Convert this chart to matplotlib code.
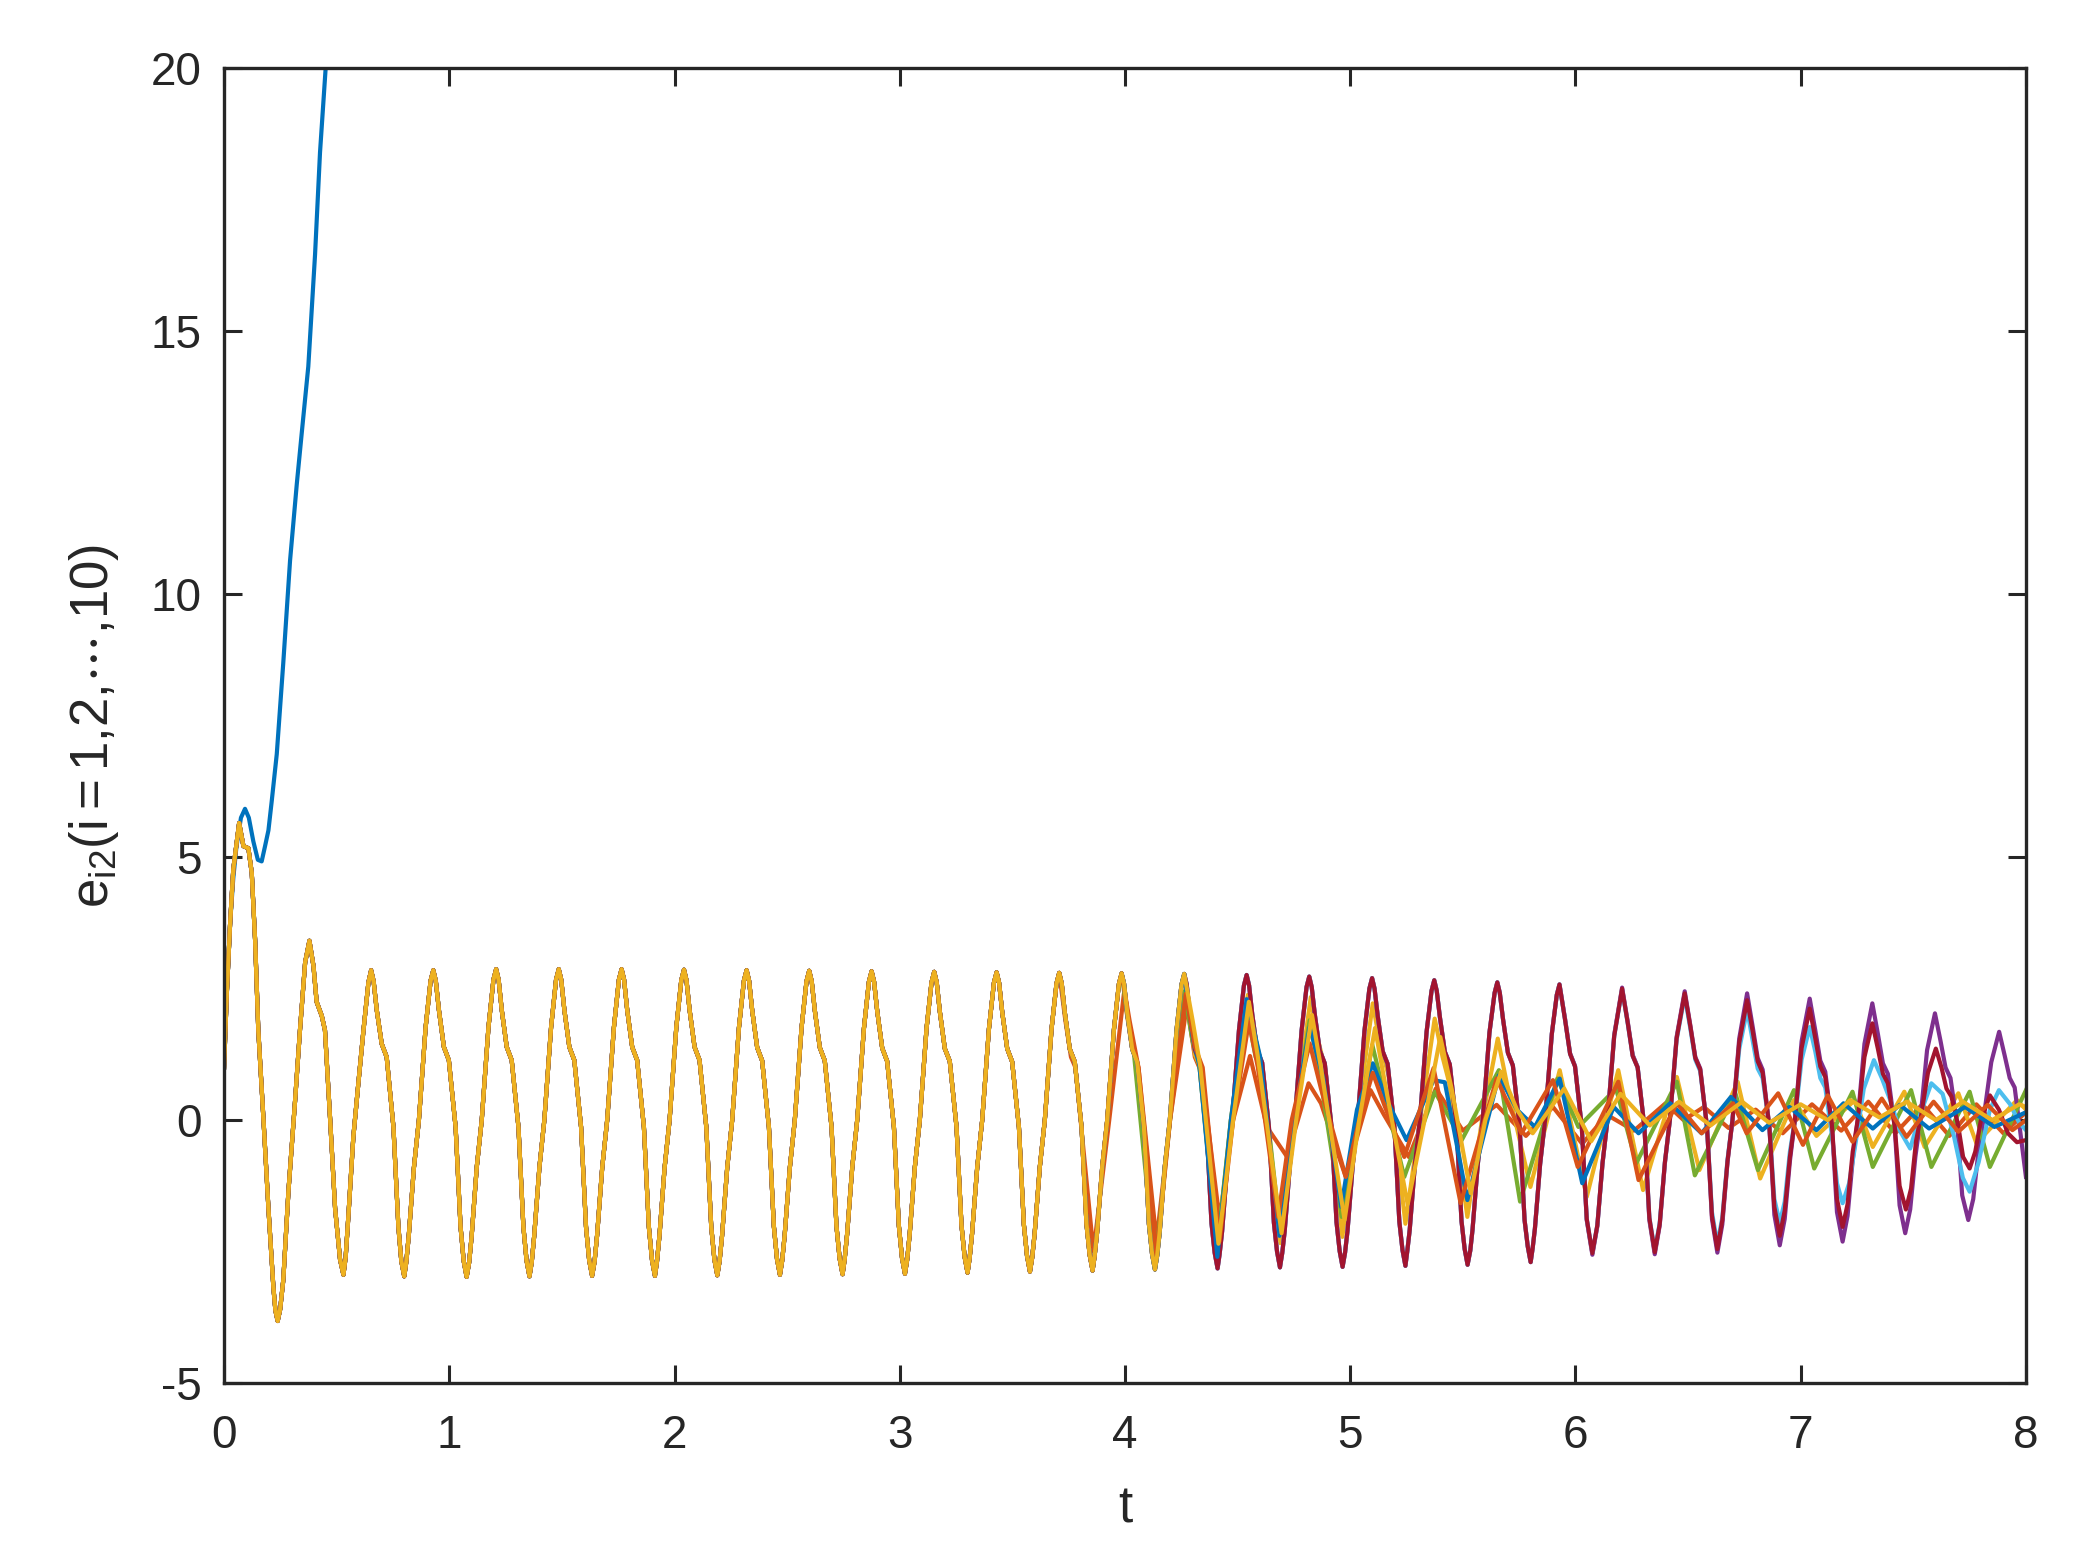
import matplotlib
matplotlib.use("Agg")
import matplotlib.pyplot as plt

plt.rcParams['font.family'] = ['Liberation Sans', 'DejaVu Sans']
plt.rcParams['mathtext.fontset'] = 'custom'
plt.rcParams['mathtext.rm'] = 'Liberation Sans'
plt.rcParams['mathtext.it'] = 'Liberation Sans'
plt.rcParams['axes.unicode_minus'] = False

# ---------------- data ----------------
# shared waveform followed by all synchronised agents (one row per cycle)
t_main = [
    0.000, 0.012, 0.027, 0.041, 0.067, 0.086, 0.108, 0.123, 0.138, 0.152, 0.175, 0.197, 0.219, 0.228, 0.238, 0.249,
    0.263, 0.286, 0.315, 0.337, 0.360, 0.379, 0.397, 0.411, 0.434, 0.448, 0.471, 0.493, 0.515, 0.530, 0.540,
    0.552, 0.574, 0.596, 0.619, 0.641, 0.653, 0.664, 0.678, 0.700, 0.722, 0.752, 0.774, 0.787, 0.800,
    0.809, 0.820, 0.843, 0.865, 0.895, 0.917, 0.929, 0.940, 0.954, 0.976, 0.998, 1.028, 1.050, 1.064, 1.077,
    1.088, 1.099, 1.122, 1.144, 1.174, 1.196, 1.208, 1.219, 1.233, 1.255, 1.277, 1.307, 1.329, 1.343, 1.356,
    1.366, 1.377, 1.400, 1.422, 1.452, 1.474, 1.486, 1.497, 1.511, 1.533, 1.555, 1.585, 1.607, 1.621, 1.634,
    1.645, 1.656, 1.679, 1.701, 1.731, 1.753, 1.765, 1.776, 1.790, 1.812, 1.834, 1.864, 1.886, 1.900, 1.913,
    1.922, 1.933, 1.956, 1.978, 2.008, 2.030, 2.042, 2.053, 2.067, 2.089, 2.111, 2.141, 2.163, 2.177, 2.190,
    2.200, 2.211, 2.234, 2.256, 2.286, 2.308, 2.320, 2.331, 2.345, 2.367, 2.389, 2.419, 2.441, 2.455, 2.468,
    2.478, 2.489, 2.512, 2.534, 2.564, 2.586, 2.598, 2.609, 2.623, 2.645, 2.667, 2.697, 2.719, 2.733, 2.746,
    2.755, 2.766, 2.789, 2.811, 2.841, 2.863, 2.875, 2.886, 2.900, 2.922, 2.944, 2.974, 2.996, 3.010, 3.023,
    3.033, 3.044, 3.067, 3.089, 3.119, 3.141, 3.153, 3.164, 3.178, 3.200, 3.222, 3.252, 3.274, 3.288, 3.301,
    3.310, 3.321, 3.344, 3.366, 3.396, 3.418, 3.430, 3.441, 3.455, 3.477, 3.499, 3.529, 3.551, 3.565, 3.578,
    3.588, 3.599, 3.622, 3.644, 3.674, 3.696, 3.708, 3.719, 3.733, 3.755, 3.777, 3.807, 3.829, 3.843, 3.856,
    3.865, 3.876, 3.899, 3.921, 3.951, 3.973, 3.985, 3.996, 4.010, 4.032, 4.054, 4.084, 4.106, 4.120, 4.133,
    4.143, 4.154, 4.177, 4.199, 4.229, 4.251, 4.263, 4.274, 4.288, 4.310, 4.332, 4.362, 4.384, 4.398, 4.411,
    4.420, 4.431, 4.454, 4.476, 4.506, 4.528, 4.540, 4.551, 4.565, 4.587, 4.609, 4.639, 4.661, 4.675, 4.688,
    4.698, 4.709, 4.732, 4.754, 4.784, 4.806, 4.818, 4.829, 4.843, 4.865, 4.887, 4.917, 4.939, 4.953, 4.966,
    4.977, 4.988, 5.011, 5.033, 5.063, 5.085, 5.097, 5.108, 5.122, 5.144, 5.166, 5.196, 5.218, 5.232, 5.245,
    5.253, 5.264, 5.287, 5.309, 5.339, 5.361, 5.373, 5.384, 5.398, 5.420, 5.442, 5.472, 5.494, 5.508, 5.521,
    5.533, 5.543, 5.566, 5.588, 5.618, 5.641, 5.653, 5.664, 5.678, 5.700, 5.722, 5.752, 5.774, 5.788, 5.801,
    5.810, 5.820, 5.843, 5.865, 5.895, 5.917, 5.929,
]
y_main = [
    1.00, 2.39, 3.75, 4.77, 5.65, 5.21, 5.17, 4.70, 3.41, 1.71, 0.01, -1.68, -3.18, -3.62, -3.82, -3.60,
    -3.04, -1.34, 0.35, 1.71, 3.00, 3.41, 2.93, 2.25, 1.98, 1.71, 0.01, -1.68, -2.65, -2.94, -2.60,
    -1.82, -0.32, 0.69, 1.71, 2.62, 2.85, 2.64, 2.09, 1.45, 1.20, -0.13, -2.03, -2.68, -2.97,
    -2.70, -2.20, -0.90, 0.00, 1.77, 2.65, 2.85, 2.65, 2.09, 1.39, 1.14, -0.13, -2.03, -2.68, -2.98,
    -2.71, -2.22, -0.89, 0.00, 1.77, 2.67, 2.87, 2.67, 2.09, 1.39, 1.14, -0.13, -2.03, -2.67, -2.97,
    -2.70, -2.20, -0.90, 0.00, 1.77, 2.67, 2.87, 2.67, 2.09, 1.39, 1.14, -0.13, -2.03, -2.66, -2.96,
    -2.69, -2.20, -0.90, 0.00, 1.77, 2.67, 2.87, 2.67, 2.09, 1.39, 1.14, -0.13, -2.03, -2.66, -2.96,
    -2.69, -2.20, -0.90, 0.00, 1.77, 2.66, 2.86, 2.66, 2.09, 1.39, 1.14, -0.13, -2.03, -2.65, -2.95,
    -2.68, -2.20, -0.90, 0.00, 1.76, 2.65, 2.85, 2.65, 2.08, 1.38, 1.13, -0.13, -2.02, -2.64, -2.94,
    -2.67, -2.19, -0.90, 0.00, 1.76, 2.64, 2.84, 2.64, 2.08, 1.38, 1.13, -0.13, -2.02, -2.63, -2.93,
    -2.66, -2.18, -0.90, 0.00, 1.75, 2.63, 2.83, 2.63, 2.07, 1.37, 1.12, -0.13, -2.01, -2.62, -2.92,
    -2.65, -2.17, -0.89, 0.00, 1.75, 2.62, 2.82, 2.62, 2.06, 1.36, 1.12, -0.13, -2.00, -2.60, -2.90,
    -2.63, -2.16, -0.89, 0.00, 1.74, 2.61, 2.81, 2.61, 2.05, 1.36, 1.11, -0.13, -1.99, -2.58, -2.88,
    -2.61, -2.15, -0.88, 0.00, 1.74, 2.60, 2.80, 2.60, 2.04, 1.35, 1.11, -0.13, -1.98, -2.56, -2.86,
    -2.59, -2.14, -0.88, 0.00, 1.73, 2.59, 2.79, 2.59, 2.03, 1.35, 1.10, -0.13, -1.97, -2.54, -2.84,
    -2.57, -2.13, -0.87, 0.00, 1.72, 2.58, 2.78, 2.58, 2.02, 1.34, 1.10, -0.13, -1.96, -2.52, -2.82,
    -2.55, -2.12, -0.87, 0.00, 1.71, 2.56, 2.76, 2.56, 2.01, 1.33, 1.09, -0.13, -1.95, -2.50, -2.80,
    -2.53, -2.11, -0.86, 0.00, 1.70, 2.53, 2.73, 2.53, 2.00, 1.32, 1.08, -0.13, -1.94, -2.49, -2.79,
    -2.52, -2.10, -0.86, 0.00, 1.69, 2.50, 2.70, 2.50, 1.98, 1.31, 1.07, -0.13, -1.93, -2.47, -2.77,
    -2.50, -2.09, -0.85, 0.00, 1.68, 2.46, 2.66, 2.46, 1.96, 1.30, 1.06, -0.13, -1.92, -2.45, -2.75,
    -2.48, -2.08, -0.85, 0.00, 1.66, 2.42, 2.62, 2.42, 1.93, 1.28, 1.04, -0.13, -1.90, -2.40, -2.70,
    -2.43, -2.06, -0.84, 0.00, 1.64, 2.38, 2.58,
]

# agent 1: diverging trajectory
t_1 = [0.000, 0.012, 0.027, 0.041, 0.055, 0.075, 0.093, 0.110, 0.130, 0.150, 0.167, 0.182,
       0.197, 0.212, 0.234, 0.263, 0.293, 0.323, 0.345, 0.374, 0.404, 0.426, 0.451]
y_1 = [1.00, 2.39, 3.75, 4.60, 5.20, 5.75, 5.92, 5.75, 5.30, 4.95, 4.92, 5.21,
       5.51, 6.08, 6.96, 8.70, 10.64, 12.10, 13.07, 14.33, 16.46, 18.40, 20.00]

# time at which each agent leaves the shared waveform (agents 2..10)
split_t = {2: 3.708, 3: 4.263, 4: 5.929, 5: 3.985, 6: 5.929, 7: 5.929, 8: 4.263, 9: 3.985, 10: 4.263}

t_2 = [3.735, 3.760, 3.780, 3.860, 3.930, 3.995, 4.030, 4.060, 4.140, 4.200, 4.275, 4.310, 4.340,
       4.420, 4.480, 4.555, 4.630, 4.720, 4.815, 4.870, 4.980, 5.090, 5.150, 5.260, 5.380, 5.500,
       5.650, 5.780, 5.900, 6.030, 6.140, 6.260, 6.400, 6.480, 6.570, 6.680, 6.800, 6.920, 7.050,
       7.180, 7.300, 7.420, 7.540, 7.660, 7.780, 7.900, 8.000]
y_2 = [1.90, 1.20, 1.00, -2.50, 0.00, 2.40, 1.40, 1.00, -2.30, 0.00, 2.20, 1.20, 0.90,
       -1.90, 0.00, 1.22, -0.13, -0.70, 0.70, 0.32, -1.08, 0.57, 0.10, -0.70, 0.60, -0.20,
       0.29, -0.30, 0.25, -0.45, 0.10, -0.20, 0.32, 0.00, 0.25, -0.15, 0.20, -0.25, 0.30,
       -0.20, 0.35, -0.25, 0.30, -0.30, 0.30, -0.25, 0.15]

t_3 = [4.290, 4.310, 4.330, 4.410, 4.470, 4.545, 4.570, 4.610, 4.690, 4.750, 4.825, 4.850, 4.890,
       4.965, 5.030, 5.100, 5.130, 5.170, 5.245, 5.310, 5.375, 5.410, 5.440, 5.520, 5.585, 5.655,
       5.700, 5.800, 5.930, 6.050, 6.190, 6.300, 6.450, 6.550, 6.720, 6.820, 6.970, 7.070, 7.240,
       7.320, 7.460, 7.550, 7.700, 7.780, 7.960, 8.000]
y_3 = [1.95, 1.25, 1.05, -2.45, 0.00, 2.38, 1.70, 1.00, -2.34, 0.00, 2.34, 1.65, 0.95,
       -2.22, 0.00, 2.22, 1.50, 0.85, -1.97, 0.00, 1.93, 1.20, 0.70, -1.84, 0.00, 1.55,
       0.60, -1.27, 0.95, -1.46, 0.95, -1.33, 0.82, -0.95, 0.73, -1.11, 0.38, -0.30, 0.38,
       -0.51, 0.54, -0.51, 0.51, -0.44, 0.38, 0.20]

t_4 = [5.954, 5.976, 5.998, 6.028, 6.050, 6.075, 6.097, 6.120, 6.142, 6.172, 6.207, 6.232, 6.254,
       6.276, 6.306, 6.328, 6.352, 6.374, 6.397, 6.419, 6.449, 6.485, 6.510, 6.532, 6.554, 6.584,
       6.606, 6.630, 6.652, 6.675, 6.697, 6.727, 6.762, 6.787, 6.809, 6.831, 6.861, 6.883, 6.907,
       6.929, 6.952, 6.974, 7.004, 7.040, 7.065, 7.087, 7.109, 7.139, 7.161, 7.186, 7.208, 7.231,
       7.253, 7.283, 7.318, 7.343, 7.365, 7.387, 7.417, 7.439, 7.464, 7.486, 7.509, 7.531, 7.561,
       7.596, 7.621, 7.643, 7.665, 7.695, 7.717, 7.744, 7.766, 7.789, 7.811, 7.846, 7.881, 7.906,
       7.928, 7.950, 7.980, 8.000]
y_4 = [1.92, 1.27, 1.03, -0.13, -1.90, -2.56, -2.02, -0.83, 0.00, 1.62, 2.52, 1.87, 1.24,
       1.01, -0.13, -1.90, -2.55, -2.00, -0.82, 0.00, 1.58, 2.45, 1.80, 1.20, 0.98, -0.13,
       -1.88, -2.52, -1.98, -0.80, 0.00, 1.55, 2.41, 1.77, 1.18, 0.96, -0.13, -1.80, -2.38,
       -1.88, -0.78, 0.00, 1.50, 2.31, 1.70, 1.13, 0.92, -0.12, -1.75, -2.31, -1.82, -0.75,
       0.00, 1.45, 2.22, 1.63, 1.08, 0.88, -0.12, -1.62, -2.15, -1.70, -0.70, 0.00, 1.33,
       2.03, 1.50, 1.00, 0.80, -0.10, -1.43, -1.90, -1.50, -0.60, 0.00, 1.10, 1.68, 1.22,
       0.80, 0.62, -0.40, -1.08]

t_5 = [4.010, 4.040, 4.133, 4.200, 4.263, 4.300, 4.330, 4.409, 4.470, 4.540, 4.580, 4.610,
       4.686, 4.750, 4.820, 4.860, 4.962, 5.098, 5.240, 5.376, 5.495, 5.660, 5.754, 5.920,
       6.013, 6.180, 6.270, 6.450, 6.530, 6.710, 6.810, 6.970, 7.060, 7.230, 7.320, 7.490,
       7.580, 7.750, 7.840, 8.000]
y_5 = [2.00, 1.25, -2.80, 0.00, 2.45, 1.50, 1.05, -2.45, 0.00, 2.10, 1.20, 0.95,
       -2.00, 0.00, 1.90, 1.00, -1.84, 1.43, -1.08, 0.54, -0.38, 0.95, -1.55, 0.79,
       -0.13, 0.60, -0.82, 0.73, -1.05, 0.51, -0.95, 0.57, -0.92, 0.54, -0.89, 0.57,
       -0.89, 0.54, -0.89, 0.57]

t_6 = [5.954, 5.976, 5.998, 6.028, 6.050, 6.075, 6.097, 6.120, 6.142, 6.172, 6.207, 6.232, 6.254,
       6.276, 6.306, 6.328, 6.352, 6.374, 6.397, 6.419, 6.449, 6.485, 6.510, 6.532, 6.554, 6.584,
       6.606, 6.630, 6.652, 6.675, 6.697, 6.727, 6.762, 6.787, 6.809, 6.831, 6.861, 6.883, 6.907,
       6.929, 6.952, 6.974, 7.004, 7.040, 7.065, 7.087, 7.109, 7.139, 7.161, 7.186, 7.215, 7.245,
       7.280, 7.325, 7.360, 7.400, 7.440, 7.486, 7.530, 7.580, 7.630, 7.680, 7.720, 7.750, 7.790,
       7.840, 7.880, 7.930, 7.970, 8.000]
y_6 = [1.90, 1.26, 1.02, -0.13, -1.88, -2.52, -2.00, -0.82, 0.00, 1.60, 2.48, 1.84, 1.22,
       1.00, -0.13, -1.85, -2.48, -1.96, -0.80, 0.00, 1.53, 2.36, 1.74, 1.15, 0.93, -0.13,
       -1.75, -2.36, -1.85, -0.75, 0.00, 1.35, 2.10, 1.50, 0.98, 0.80, -0.12, -1.50, -1.95,
       -1.55, -0.60, 0.00, 1.15, 1.77, 1.30, 0.80, 0.62, -0.30, -1.20, -1.58, -1.20, -0.40,
       0.60, 1.14, 0.80, 0.35, -0.20, -0.54, 0.10, 0.70, 0.50, -0.30, -1.10, -1.36, -0.80,
       0.20, 0.57, 0.30, -0.05, -0.19]

t_7 = [5.954, 5.976, 5.998, 6.028, 6.050, 6.075, 6.097, 6.120, 6.142, 6.172, 6.207, 6.232, 6.254,
       6.276, 6.306, 6.328, 6.352, 6.374, 6.397, 6.419, 6.449, 6.485, 6.510, 6.532, 6.554, 6.584,
       6.606, 6.630, 6.652, 6.675, 6.697, 6.727, 6.762, 6.787, 6.809, 6.831, 6.861, 6.883, 6.907,
       6.929, 6.952, 6.974, 7.004, 7.040, 7.065, 7.087, 7.109, 7.139, 7.161, 7.186, 7.208, 7.231,
       7.253, 7.283, 7.318, 7.343, 7.365, 7.387, 7.417, 7.439, 7.467, 7.490, 7.512, 7.535, 7.565,
       7.600, 7.625, 7.647, 7.669, 7.699, 7.721, 7.750, 7.775, 7.800, 7.840, 7.880, 7.920, 7.960,
       8.000]
y_7 = [1.90, 1.26, 1.02, -0.13, -1.88, -2.53, -2.00, -0.82, 0.00, 1.60, 2.50, 1.85, 1.22,
       1.00, -0.13, -1.86, -2.51, -1.98, -0.80, 0.00, 1.55, 2.41, 1.78, 1.18, 0.96, -0.13,
       -1.82, -2.45, -1.90, -0.78, 0.00, 1.47, 2.28, 1.68, 1.12, 0.90, -0.13, -1.65, -2.20,
       -1.72, -0.70, 0.00, 1.37, 2.12, 1.55, 1.02, 0.82, -0.12, -1.50, -2.03, -1.60, -0.60,
       0.00, 1.20, 1.84, 1.35, 0.88, 0.70, -0.10, -1.25, -1.70, -1.30, -0.40, 0.10, 0.90,
       1.36, 1.00, 0.60, 0.45, -0.10, -0.70, -0.92, -0.60, 0.00, 0.47, 0.20, -0.25, -0.42,
       -0.38]

t_8 = [4.300, 4.330, 4.410, 4.470, 4.540, 4.600, 4.686, 4.750, 4.820, 4.880, 4.960, 5.030,
       5.100, 5.160, 5.250, 5.370, 5.420, 5.520, 5.660, 5.740, 5.820, 5.930, 6.030, 6.170,
       6.280, 6.420, 6.560, 6.690, 6.830, 6.950, 7.070, 7.190, 7.320, 7.440, 7.570, 7.730,
       7.860, 8.000]
y_8 = [1.60, 1.05, -2.60, 0.00, 2.30, 1.20, -2.20, 0.00, 1.77, 0.80, -1.65, 0.20,
       1.08, 0.40, -0.38, 0.76, 0.72, -1.52, 0.85, 0.20, -0.13, 0.79, -1.20, 0.25,
       -0.25, 0.32, -0.25, 0.44, -0.19, 0.25, -0.19, 0.32, -0.16, 0.29, -0.16, 0.25,
       -0.13, 0.15]

t_9 = [4.020, 4.060, 4.140, 4.200, 4.270, 4.310, 4.345, 4.420, 4.480, 4.550, 4.590, 4.680,
       4.740, 4.820, 4.870, 4.980, 5.040, 5.100, 5.150, 5.240, 5.370, 5.490, 5.650, 5.760,
       5.900, 6.010, 6.190, 6.280, 6.450, 6.560, 6.700, 6.760, 6.900, 7.010, 7.120, 7.230,
       7.360, 7.470, 7.590, 7.700, 7.830, 7.940, 8.000]
y_9 = [1.90, 1.00, -2.60, 0.00, 2.40, 1.40, 1.00, -2.30, 0.00, 1.87, 1.00, -1.84,
       0.00, 1.46, 0.60, -1.08, 0.00, 0.90, 0.30, -0.70, 0.99, -1.58, 0.79, -0.25,
       0.76, -0.89, 0.73, -1.14, 0.32, -0.25, 0.32, -0.25, 0.51, -0.47, 0.47, -0.41,
       0.41, -0.32, 0.35, -0.22, 0.29, -0.19, 0.00]

t_10 = [4.300, 4.335, 4.415, 4.480, 4.550, 4.590, 4.695, 4.760, 4.830, 4.870, 4.975, 5.040,
        5.110, 5.150, 5.255, 5.330, 5.400, 5.450, 5.535, 5.600, 5.670, 5.740, 5.810, 5.950,
        6.070, 6.200, 6.330, 6.460, 6.600, 6.740, 6.860, 7.000, 7.120, 7.220, 7.350, 7.470,
        7.600, 7.720, 7.850, 7.970, 8.000]
y_10 = [1.90, 1.00, -2.35, 0.00, 2.25, 1.20, -2.15, 0.00, 2.00, 1.00, -1.90, 0.00,
        1.75, 0.80, -1.60, 0.00, 1.58, 0.60, -1.39, 0.00, 0.92, 0.20, -0.25, 0.60,
        -0.40, 0.50, -0.10, 0.35, -0.10, 0.35, -0.05, 0.30, 0.00, 0.38, 0.05, 0.35,
        0.00, 0.35, 0.00, 0.30, 0.25]

tails_t = {2: t_2, 3: t_3, 4: t_4, 5: t_5, 6: t_6, 7: t_7, 8: t_8, 9: t_9, 10: t_10}
tails_y = {2: y_2, 3: y_3, 4: y_4, 5: y_5, 6: y_6, 7: y_7, 8: y_8, 9: y_9, 10: y_10}

colors = ['#0072BD', '#D95319', '#EDB120', '#7E2F8E', '#77AC30',
          '#4DBEEE', '#A2142F', '#0072BD', '#D95319', '#EDB120']

x_ticks = [0, 1, 2, 3, 4, 5, 6, 7, 8]
y_ticks = [-5, 0, 5, 10, 15, 20]

# ---------------- figure ----------------
fig = plt.figure(figsize=(10.47, 7.77), dpi=200)
ax = fig.add_axes([0.107, 0.110, 0.8605, 0.846])

lw = 1.5
ax.plot(t_1, y_1, color=colors[0], lw=lw, solid_joinstyle='round')
for i in range(2, 11):
    k = t_main.index(split_t[i]) + 1
    tt = t_main[:k] + tails_t[i]
    yy = y_main[:k] + tails_y[i]
    ax.plot(tt, yy, color=colors[i - 1], lw=lw, solid_joinstyle='round')

ax.set_xlim(0, 8)
ax.set_ylim(-5, 20)
ax.set_xticks(x_ticks)
ax.set_yticks(y_ticks)
ax.set_xticklabels([str(v) for v in x_ticks])
ax.set_yticklabels([str(v) for v in y_ticks])

axc = '#262626'
for s in ax.spines.values():
    s.set_linewidth(1.2)
    s.set_color(axc)
ax.tick_params(direction='in', length=6.5, width=1.1, top=True, right=True,
               labelsize=16.5, colors=axc)
ax.tick_params(axis='x', pad=11)
ax.tick_params(axis='y', pad=8)

ax.set_xlabel('t', fontsize=18.5, color=axc)
ax.xaxis.set_label_coords(0.5, -0.077)
ax.set_ylabel(r'$\mathregular{e_{i2}(i{=}1{,}2{,}\cdots{,}10)}$', fontsize=19, color=axc)
ax.yaxis.set_label_coords(-0.057, 0.5)

fig.savefig('out.png', dpi=200, facecolor='white')
